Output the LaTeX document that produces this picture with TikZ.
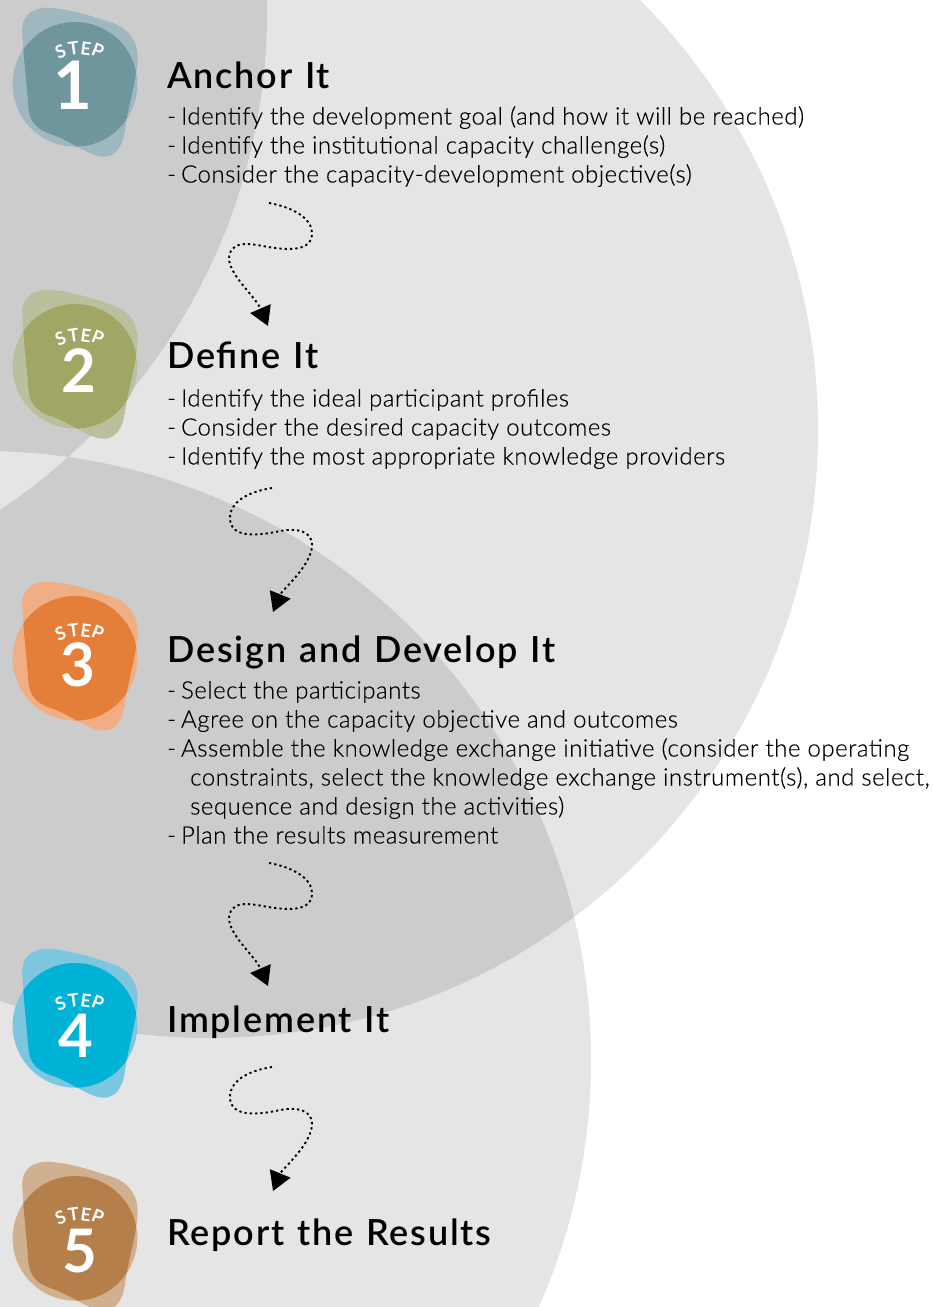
\documentclass[tikz,border=0pt]{standalone}
\usepackage{fontspec}
\setmainfont{Lato}[UprightFont=* Light,BoldFont=* Semibold,UprightFeatures={FakeBold=0.25,LetterSpace=2.1},BoldFeatures={LetterSpace=5,WordSpace=1.2}]
\newfontfamily\stepfont{Lato}[UprightFont=* Bold,LetterSpace=3]
\newfontfamily\numfont{Lato}[UprightFont=* Bold]
\usetikzlibrary{arrows.meta}
\definecolor{bglight}{HTML}{E5E5E5}
\definecolor{bgdark}{HTML}{CCCCCC}
\definecolor{aS}{HTML}{9FB8BF}\definecolor{aD}{HTML}{6F959D}
\definecolor{bS}{HTML}{BAC09D}\definecolor{bD}{HTML}{A2A665}
\definecolor{cS}{HTML}{EFAE84}\definecolor{cD}{HTML}{E57E38}
\definecolor{dS}{HTML}{7DC6DF}\definecolor{dD}{HTML}{00B2D6}
\definecolor{eS}{HTML}{D0B08F}\definecolor{eD}{HTML}{B47F4B}
\newcommand{\blobshape}{(67,100) .. controls (62,50) and (95,22) .. (145,23) .. controls (215,28) and (280,50) .. (335,68) .. controls (385,85) and (413,120) .. (413,175) .. controls (413,225) and (385,320) .. (378,370) .. controls (372,420) and (360,470) .. (310,470) .. controls (270,470) and (215,425) .. (160,405) .. controls (110,390) and (88,365) .. (85,320) .. controls (80,250) and (70,170) .. (67,100) -- cycle}
\newcommand{\ringA}{(-330,12) circle (597)}
\newcommand{\ringB}{(210,430) circle (608)}
\newcommand{\ringC}{(-18,1060) circle (609)}
\newcommand{\dash}{-\hspace{5pt}}
\tikzset{
 headtext/.style={anchor=base west,inner sep=0pt,font=\fontsize{36}{36}\selectfont\bfseries,text=black},
 bodytext/.style={anchor=base west,inner sep=0pt,font=\fontsize{24}{24}\selectfont,text=black},
 steptext/.style={inner sep=0pt,text=white,font=\stepfont\fontsize{18}{18}\selectfont},
 numtext/.style={inner sep=0pt,text=white,font=\numfont\fontsize{60}{60}\selectfont},
 flow/.style={line width=1.9pt,dash pattern=on 2.3pt off 3pt,draw=black,-{Triangle[length=19pt,width=22pt,fill=black]}}
}
% #1 y offset, #2 single colour, #3 overlap colour, #4 digit, #5 digit x, #6 digit y, #7 STEP dy, #8 digit size
\newcommand{\badge}[8]{%
 \begin{scope}[yshift=-#1pt,x=0.3333pt,y=-0.3333pt]
  \fill[#2] \blobshape;
  \fill[#2] (225,253) circle (187);
  \begin{scope}
   \clip \blobshape;
   \fill[#3] (225,253) circle (187);
  \end{scope}
 \end{scope}
 \begin{scope}[yshift=-#1pt]
  \node[steptext,rotate=22] (s#4) at (60.5,52+#7) {S};
  \node[steptext,rotate=8] (t#4) at (73.5,48+#7) {T};
  \node[steptext,rotate=-8] (e#4) at (86,48.5+#7) {E};
  \node[steptext,rotate=-22] (p#4) at (98,51+#7) {P};
  \node[numtext] (n#4) at (#5,#6) {\fontsize{#8}{#8}\selectfont #4};
 \end{scope}}
\begin{document}
\begin{tikzpicture}[x=1pt,y=-1pt]
\useasboundingbox (0,0) rectangle (933,1307);
\clip (0,0) rectangle (933,1307);
\fill[white] (0,0) rectangle (933,1307);
\fill[bglight] \ringA;
\fill[bglight] \ringB;
\fill[bglight] \ringC;
\begin{scope}
 \clip \ringB;
 \fill[bgdark] \ringA;
 \fill[bgdark] \ringC;
 \clip \ringA;
 \fill[bglight] \ringC;
\end{scope}
\badge{0}{aS}{aD}{1}{73}{85}{0}{67}
\badge{282}{bS}{bD}{2}{79}{89}{5}{60}
\badge{574}{cS}{cD}{3}{78}{91}{8}{60}
\badge{941}{dS}{dD}{4}{76}{95}{11}{60}
\badge{1154}{eS}{eD}{5}{80}{97}{12}{60}
\node[headtext] (h1) at (167,88.5) {Anchor It};
\node[bodytext] (l11) at (167,124.5) {\dash Identify the development goal (and how it will be reached)};
\node[bodytext] (l12) at (167,153.5) {\dash Identify the institutional capacity challenge(s)};
\node[bodytext] (l13) at (167,182.5) {\dash Consider the capacity-development objective(s)};
\node[headtext] (h2) at (167,368) {Define It};
\node[bodytext] (l21) at (167,406.5) {\dash Identify the ideal participant profiles};
\node[bodytext] (l22) at (167,435.5) {\dash Consider the desired capacity outcomes};
\node[bodytext] (l23) at (167,464.5) {\dash Identify the most appropriate knowledge providers};
\node[headtext] (h3) at (167,662) {Design and Develop It};
\node[bodytext] (l31) at (167,698.5) {\dash Select the participants};
\node[bodytext] (l32) at (167,727.5) {\dash Agree on the capacity objective and outcomes};
\node[bodytext] (l33) at (167,756.5) {\dash Assemble the knowledge exchange initiative (consider the operating};
\node[bodytext] (l34) at (190,785.5) {constraints, select the knowledge exchange instrument(s), and select,};
\node[bodytext] (l35) at (190,814.5) {sequence and design the activities)};
\node[bodytext] (l36) at (167,843.5) {\dash Plan the results measurement};
\node[headtext] (h4) at (167,1032) {Implement It};
\node[headtext] (h5) at (167,1245) {Report the Results};
\coordinate (a1s) at (269,203); \coordinate (a1e) at (268,326);
\coordinate (a2s) at (272,488); \coordinate (a2e) at (273,612);
\coordinate (a3s) at (269,863); \coordinate (a3e) at (268,986);
\coordinate (a4s) at (272,1067); \coordinate (a4e) at (273,1191);
\draw[flow] (a1s) .. controls (292,207) and (312,218) .. (312,233) .. controls (312,252) and (288,250) .. (268,247) .. controls (248,243) and (229,240) .. (229,260) .. controls (232,278) and (255,296) .. (a1e);
\draw[flow] (a2s) .. controls (252,491) and (230,500) .. (230,518) .. controls (230,540) and (262,535) .. (280,531) .. controls (295,528) and (312,530) .. (312,545) .. controls (312,565) and (282,590) .. (a2e);
\draw[flow] (a3s) .. controls (292,867) and (312,878) .. (312,893) .. controls (312,912) and (288,910) .. (268,907) .. controls (248,903) and (229,900) .. (229,920) .. controls (232,938) and (255,956) .. (a3e);
\draw[flow] (a4s) .. controls (252,1070) and (230,1079) .. (230,1097) .. controls (230,1119) and (262,1114) .. (280,1110) .. controls (295,1107) and (312,1109) .. (312,1124) .. controls (312,1144) and (282,1169) .. (a4e);
\end{tikzpicture}
\end{document}
